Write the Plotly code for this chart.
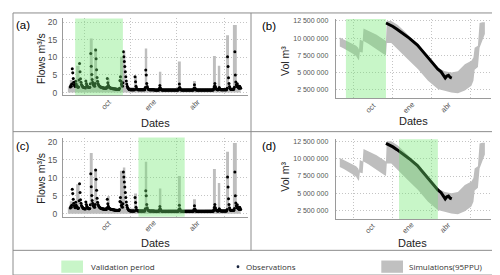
import pandas as pd
import plotly.graph_objects as go

# ---------------- data ----------------
BASE_DATE = "2016-07-07"
X_RANGE = ["2016-06-22", "2017-07-07"]
month_ticks = ["2016-10-01", "2017-01-01", "2017-04-01"]
month_labels = ["oct", "ene", "abr"]
grid_dates = ["2016-08-05", "2016-11-08", "2017-02-11", "2017-05-19"]
flow_ticks = [0, 5, 10, 15, 20]
vol_ticks = [2500000, 5000000, 7500000, 10000000, 12500000]
vol_tick_labels = ["2 500 000", "5 000 000", "7 500 000", "10 000 000", "12 500 000"]
valid_top = ["2016-07-17", "2016-10-23"]      # panels (a), (b)
valid_bottom = ["2016-11-24", "2017-02-27"]   # panels (c), (d)

# observed daily flow (m3/s), one value per day from BASE_DATE
obs_flow = [
    1.6, 2.0, 1.8, 2.4, 6.8, 5.6, 4.0, 2.9, 2.3, 1.9,
    1.7, 3.2, 2.4, 2.0, 1.8, 1.6, 1.5, 1.6, 3.6, 8.3,
    5.9, 3.9, 2.9, 2.3, 2.0, 1.8, 1.6, 1.5, 1.4, 1.4,
    1.4, 1.3, 3.3, 2.6, 2.1, 1.8, 1.6, 1.5, 1.4, 1.4,
    1.5, 2.5, 11.1, 7.5, 5.1, 3.7, 2.9, 2.4, 2.1, 1.9,
    1.8, 2.6, 12.1, 9.6, 6.5, 4.3, 3.2, 2.6, 2.2, 2.0,
    1.8, 1.7, 1.6, 1.5, 1.5, 1.4, 1.4, 1.3, 1.3, 1.3,
    1.2, 1.2, 1.3, 1.2, 1.2, 1.6, 4.0, 2.8, 2.1, 1.7,
    1.5, 1.4, 1.3, 1.3, 1.2, 1.2, 1.2, 1.1, 1.1, 1.1,
    1.1, 1.0, 1.0, 1.0, 1.0, 0.9, 0.9, 0.9, 0.9, 0.9,
    0.9, 1.2, 3.4, 4.5, 3.2, 2.4, 2.0, 1.8, 2.8, 11.6,
    10.2, 8.8, 7.4, 5.9, 4.5, 3.3, 2.4, 1.8, 1.4, 1.2,
    1.0, 0.9, 0.9, 0.8, 0.8, 0.8, 0.8, 0.8, 0.8, 0.8,
    0.8, 0.8, 0.8, 4.5, 3.1, 1.8, 1.2, 1.0, 0.9, 0.8,
    0.8, 0.8, 0.8, 0.8, 0.8, 0.8, 0.8, 0.8, 0.8, 0.8,
    0.8, 0.8, 0.8, 0.8, 1.4, 6.4, 5.0, 2.6, 1.7, 1.2,
    1.0, 0.9, 0.8, 0.8, 0.8, 0.8, 0.8, 0.8, 0.8, 0.8,
    0.8, 0.8, 0.8, 0.7, 0.7, 0.7, 0.7, 0.7, 0.7, 0.7,
    0.7, 0.7, 0.7, 1.2, 2.0, 1.3, 1.0, 0.8, 0.7, 0.7,
    0.7, 0.7, 0.7, 0.7, 0.7, 0.7, 0.7, 0.7, 0.7, 0.7,
    0.7, 0.7, 0.7, 0.7, 0.7, 0.7, 0.7, 0.7, 0.7, 0.7,
    0.7, 0.7, 0.7, 0.7, 0.7, 0.7, 0.7, 0.7, 0.7, 0.7,
    0.7, 0.7, 0.7, 1.2, 2.4, 1.4, 1.0, 0.8, 0.7, 0.7,
    0.7, 0.7, 0.7, 0.7, 0.7, 0.7, 0.7, 0.7, 0.7, 0.7,
    0.7, 0.7, 0.7, 0.7, 0.7, 0.7, 0.7, 0.7, 0.7, 0.7,
    0.7, 0.7, 0.7, 0.7, 1.2, 2.2, 1.3, 1.0, 0.8, 0.7,
    0.7, 0.7, 0.7, 0.7, 0.7, 0.7, 0.7, 0.7, 0.7, 0.7,
    0.7, 0.7, 0.7, 0.7, 0.7, 0.7, 0.7, 0.7, 0.7, 0.7,
    0.7, 0.7, 0.7, 0.7, 0.7, 0.7, 0.7, 0.7, 0.7, 0.7,
    0.7, 0.7, 0.7, 0.7, 0.8, 1.2, 1.8, 2.6, 1.7, 1.2,
    1.0, 0.9, 0.8, 0.8, 0.8, 1.0, 1.4, 1.1, 0.9, 0.8,
    0.8, 0.8, 0.8, 0.8, 0.8, 0.8, 0.8, 0.8, 0.8, 0.8,
    0.8, 0.8, 1.2, 10.2, 7.4, 4.2, 2.6, 1.7, 1.2, 1.0,
    0.9, 0.9, 0.9, 0.9, 0.9, 0.9, 1.0, 1.5, 11.6, 5.0,
    3.0, 2.2, 1.7, 2.5, 1.9, 1.5, 1.3, 1.2, 1.8, 1.4, 1.2,
]

# simulated flow 95PPU upper bound, step series (day offset from BASE_DATE)
sim_flow_day = [-5, -1, 5, 12, 19, 40, 46, 49, 55, 76, 81, 102, 108, 113, 131, 137,
                153, 158, 182, 187, 221, 227, 252, 258, 293, 299, 303, 308, 320,
                326, 334, 342, 350]
sim_flow_up_a = [1.8, 3.6, 1.8, 7.6, 1.8, 15.4, 1.8, 12.5, 1.8, 4.0, 1.5, 10.2, 12.0,
                 1.5, 4.5, 1.3, 12.5, 1.3, 5.9, 1.3, 8.8, 1.3, 3.3, 1.3, 10.4, 1.3,
                 7.6, 1.3, 16.3, 1.5, 19.2, 2.0, 2.0]
sim_flow_up_c = [1.8, 3.5, 1.8, 8.2, 1.8, 16.8, 1.8, 12.4, 1.8, 4.9, 1.5, 11.9, 12.8,
                 1.5, 5.6, 1.3, 14.4, 1.3, 7.0, 1.3, 10.5, 1.3, 4.0, 1.3, 12.4, 1.3,
                 8.5, 1.3, 17.2, 1.5, 19.6, 2.0, 2.0]

# reservoir volume 95PPU band (millions of m3)
vol_band_day = [-5, 5, 15, 25, 35, 40, 42, 44, 51, 53, 65, 75, 85, 95, 102, 108, 110,
                121, 137, 162, 186, 211, 235, 252, 268, 284, 301, 317, 322, 325, 333,
                337, 344, 350]
vol_band_up = [10.1, 9.8, 9.5, 9.2, 8.9, 8.6, 8.3, 9.8, 9.6, 11.4, 11.1, 10.8, 10.5,
               10.1, 9.8, 9.6, 12.5, 12.5, 11.9, 10.5, 8.8, 7.1, 5.7, 5.2, 5.0, 5.2,
               6.2, 6.7, 7.2, 8.6, 8.9, 12.2, 12.3, 12.3]
vol_band_lo = [8.8, 8.5, 8.2, 7.8, 7.4, 6.9, 6.8, 8.0, 7.9, 9.6, 9.2, 8.8, 8.4, 8.0,
               7.7, 7.5, 9.3, 9.3, 8.3, 6.9, 5.5, 3.8, 2.6, 2.3, 2.1, 2.0, 2.4, 3.1,
               3.8, 5.4, 5.8, 8.6, 9.8, 10.6]

# observed volume (millions of m3)
vol_obs_day = [108, 115, 125, 135, 145, 150, 155, 165, 175, 185, 195, 205, 215, 225,
               235, 243, 249, 253, 257, 261, 265, 269]
vol_obs = [12.2, 12.0, 11.7, 11.3, 10.9, 10.7, 10.5, 10.0, 9.5, 9.0, 8.3, 7.6, 6.8,
           6.1, 5.5, 5.1, 4.6, 4.2, 4.5, 4.6, 4.3, 4.2]

# ---------------- helpers ----------------
W, H = 500, 275


def to_dates(days):
    return pd.Timestamp(BASE_DATE) + pd.to_timedelta(list(days), unit="D")


def px(x):
    return x / W


def py(y):
    return 1 - y / H


GRAY_BAND = "#bebebe"
GREEN = "rgba(110,232,110,0.38)"
AXIS_COL = "#9a9a9a"
GRID_COL = "#c4c4c4"
GRID_DASH = "1px,2px"
TICK_COL = "#555555"
FONT = "Liberation Sans"

fig = go.Figure()

flow_dates = to_dates(range(len(obs_flow)))
sim_dates = to_dates(sim_flow_day)
band_x = list(to_dates(vol_band_day)) + list(to_dates(vol_band_day))[::-1]
band_y = [v * 1e6 for v in vol_band_up] + [v * 1e6 for v in vol_band_lo][::-1]
vobs_x = to_dates(vol_obs_day)
vobs_y = [v * 1e6 for v in vol_obs]

panels = [
    ("x", "y", "flow", sim_flow_up_a),
    ("x2", "y2", "vol", None),
    ("x3", "y3", "flow", sim_flow_up_c),
    ("x4", "y4", "vol", None),
]

for xa, ya, kind, sim_up in panels:
    if kind == "flow":
        fig.add_trace(go.Scatter(x=sim_dates, y=sim_up, mode="lines",
                                 line=dict(shape="hv", width=0, color=GRAY_BAND),
                                 fill="tozeroy", fillcolor=GRAY_BAND,
                                 xaxis=xa, yaxis=ya, hoverinfo="skip"))
        fig.add_trace(go.Scatter(x=flow_dates, y=obs_flow, mode="markers",
                                 marker=dict(size=3.0, color="black"),
                                 xaxis=xa, yaxis=ya, hoverinfo="skip"))
    else:
        fig.add_trace(go.Scatter(x=band_x, y=band_y, mode="lines",
                                 line=dict(width=0, color=GRAY_BAND),
                                 fill="toself", fillcolor=GRAY_BAND,
                                 xaxis=xa, yaxis=ya, hoverinfo="skip"))
        fig.add_trace(go.Scatter(x=vobs_x, y=vobs_y, mode="lines",
                                 line=dict(width=3, color="black"),
                                 xaxis=xa, yaxis=ya, hoverinfo="skip"))

domains = {
    "a": ([px(55), px(240)], [py(87.3), py(9.5)]),
    "b": ([px(327.7), px(483)], [py(90), py(10)]),
    "c": ([px(55), px(240)], [py(210), py(130)]),
    "d": ([px(327.7), px(483)], [py(212.3), py(131.7)]),
}


def xaxis_cfg(dom, anchor):
    return dict(domain=dom, anchor=anchor, type="date", range=X_RANGE,
                tickmode="array", tickvals=month_ticks, ticktext=["", "", ""],
                showgrid=False, zeroline=False, showline=True, linecolor=AXIS_COL,
                linewidth=1, ticks="",
                minor=dict(tickmode="array", tickvals=grid_dates, showgrid=True,
                           griddash=GRID_DASH, gridcolor=GRID_COL, gridwidth=1, ticks=""))


def yflow_cfg(dom, anchor):
    return dict(domain=dom, anchor=anchor, range=[-0.8, 21.1], tickmode="array",
                tickvals=flow_ticks, tickfont=dict(size=8.5, color=TICK_COL, family=FONT),
                showgrid=True, griddash=GRID_DASH, gridcolor=GRID_COL, gridwidth=1,
                zeroline=False, showline=True, linecolor=AXIS_COL, linewidth=1,
                ticks="", ticklabelstandoff=3)


def yvol_cfg(dom, anchor):
    return dict(domain=dom, anchor=anchor, range=[1.3e6, 12.8e6], tickmode="array",
                tickvals=vol_ticks, ticktext=vol_tick_labels,
                tickfont=dict(size=7, color=TICK_COL, family=FONT),
                showgrid=True, griddash=GRID_DASH, gridcolor=GRID_COL, gridwidth=1,
                zeroline=False, showline=True, linecolor=AXIS_COL, linewidth=1,
                ticks="", ticklabelstandoff=5)


fig.update_layout(
    width=W, height=H, margin=dict(l=0, r=0, t=0, b=0),
    paper_bgcolor="white", plot_bgcolor="white", showlegend=False,
    font=dict(family=FONT, color="#222"),
    xaxis=xaxis_cfg(domains["a"][0], "y"), yaxis=yflow_cfg(domains["a"][1], "x"),
    xaxis2=xaxis_cfg(domains["b"][0], "y2"), yaxis2=yvol_cfg(domains["b"][1], "x2"),
    xaxis3=xaxis_cfg(domains["c"][0], "y3"), yaxis3=yflow_cfg(domains["c"][1], "x3"),
    xaxis4=xaxis_cfg(domains["d"][0], "y4"), yaxis4=yvol_cfg(domains["d"][1], "x4"),
)

shapes = []
# validation period bands
for xr, yr, period in [("x", "y domain", valid_top), ("x2", "y2 domain", valid_top),
                       ("x3", "y3 domain", valid_bottom), ("x4", "y4 domain", valid_bottom)]:
    shapes.append(dict(type="rect", xref=xr, yref=yr, x0=period[0], x1=period[1],
                       y0=0, y1=1, fillcolor=GREEN, line=dict(width=0), layer="above"))

FRAME = "#8c8c8c"
shapes += [
    dict(type="rect", xref="paper", yref="paper", x0=px(5), x1=px(493), y0=py(269), y1=py(4),
         line=dict(color=FRAME, width=1), fillcolor="rgba(0,0,0,0)", layer="above"),
    dict(type="line", xref="paper", yref="paper", x0=px(5), x1=px(493), y0=py(124), y1=py(124),
         line=dict(color=FRAME, width=1), layer="above"),
    dict(type="line", xref="paper", yref="paper", x0=px(5), x1=px(493), y0=py(244), y1=py(244),
         line=dict(color=FRAME, width=1), layer="above"),
    dict(type="line", xref="paper", yref="paper", x0=px(243), x1=px(243), y0=py(244), y1=py(4),
         line=dict(color=FRAME, width=1), layer="above"),
    # legend swatches
    dict(type="rect", xref="paper", yref="paper", x0=px(53.3), x1=px(75), y0=py(266.7), y1=py(254.3),
         fillcolor="#c8f5c8", line=dict(width=0)),
    dict(type="rect", xref="paper", yref="paper", x0=px(373.3), x1=px(395), y0=py(266.7), y1=py(254.3),
         fillcolor="#c0c0c0", line=dict(width=0)),
    dict(type="circle", xref="paper", yref="paper", x0=px(228.6), x1=px(231.4), y0=py(262), y1=py(259.2),
         fillcolor="#17233d", line=dict(width=0)),
]
fig.update_layout(shapes=shapes)

ann = []


def text(x, y, s, size, angle=0, xanchor="center", family=FONT, color="#222"):
    ann.append(dict(x=px(x), y=py(y), xref="paper", yref="paper", text=s, showarrow=False,
                    textangle=angle, xanchor=xanchor, yanchor="middle",
                    font=dict(size=size, family=family, color=color)))


# rotated month labels under each date axis
for xa, ya in [("x", "y"), ("x2", "y2"), ("x3", "y3"), ("x4", "y4")]:
    for d, lab in zip(month_ticks, month_labels):
        ann.append(dict(x=d, y=0, xref=xa, yref=ya + " domain", text=lab, showarrow=False,
                        textangle=-45, xanchor="center", yanchor="middle",
                        xshift=-6, yshift=-9,
                        font=dict(size=7.5, family=FONT, color=TICK_COL)))

text(15, 16.5, "(a)", 11.5, color="black")
text(261, 16.7, "(b)", 11.5, color="black")
text(14.5, 138.5, "(c)", 11.5, color="black")
text(261, 139, "(d)", 11.5, color="black")
text(33.5, 50, "Flows m³/s", 10.5, angle=-90)
text(33.5, 171, "Flows m³/s", 10.5, angle=-90)
text(277.5, 53, "Vol m³", 10.5, angle=-90)
text(277.5, 170, "Vol m³", 10.5, angle=-90)
text(147.5, 115, "Dates", 11)
text(405, 113, "Dates", 11)
text(147.5, 236.5, "Dates", 11)
text(404, 236.7, "Dates", 11)
text(81, 260.7, "Validation period", 8, xanchor="left", family="Open Sans", color="#333")
text(236, 260.5, "Observations", 8, xanchor="left", family="Open Sans", color="#333")
text(398.5, 260.7, "Simulations(95PPU)", 8, xanchor="left", family="Open Sans", color="#333")
fig.update_layout(annotations=ann)

fig.write_html("out.html")
